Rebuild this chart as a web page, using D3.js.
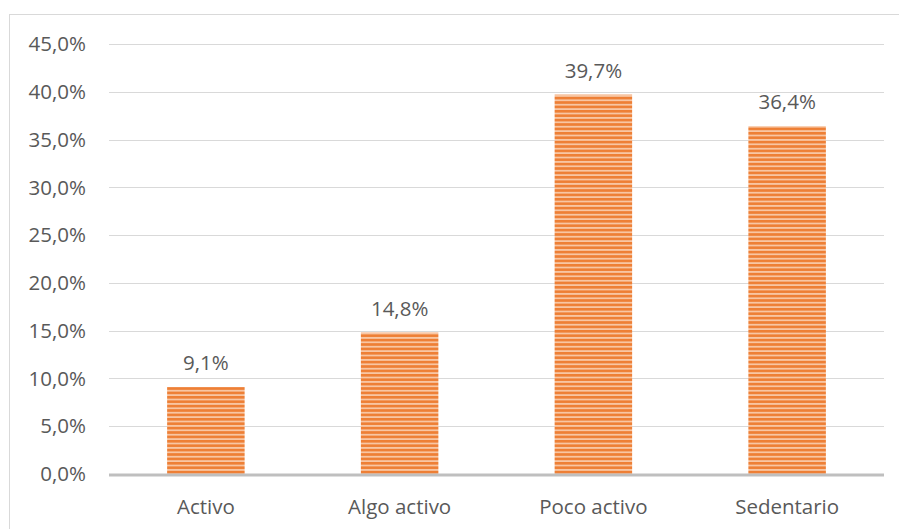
<!DOCTYPE html>
<html>
<head>
<meta charset="utf-8">
<script src="https://cdn.jsdelivr.net/npm/d3@7"></script>
<style>
  body { margin: 0; background: #fff; }
  text { font-family: "Open Sans", sans-serif; fill: #595959; }
</style>
</head>
<body>
<svg class="chart"></svg>
<script>
// Data
var categories = ['Activo', 'Algo activo', 'Poco activo', 'Sedentario'];
var values = [9.1, 14.8, 39.7, 36.4];
var ticks = [0, 5, 10, 15, 20, 25, 30, 35, 40, 45];

var W = 899, H = 529;
var margin = {top: 44, right: 15, bottom: 55, left: 109};
var width = W - margin.left - margin.right;
var height = H - margin.top - margin.bottom;
var fontSize = '20.5px';

function fmt (v) { return v.toFixed(1).replace('.', ',') + '%'; }

var svg = d3.select('.chart').attr('width', W).attr('height', H);

// Striped fill
var defs = svg.append('defs');
var pat = defs.append('pattern')
  .attr('id', 'stripes')
  .attr('patternUnits', 'userSpaceOnUse')
  .attr('width', 8).attr('height', 4.4);
pat.append('rect').attr('width', 8).attr('height', 4.4).attr('fill', '#F8C6A3');
pat.append('rect').attr('width', 8).attr('height', 2.6).attr('fill', '#EE7F35');

// Chart border
svg.append('rect')
  .attr('x', 9.5).attr('y', 14.5)
  .attr('width', W).attr('height', H)
  .attr('fill', 'none').attr('stroke', '#D9D9D9');

var g = svg.append('g')
  .attr('transform', 'translate(' + margin.left + ',' + margin.top + ')');

var x = d3.scaleBand()
  .domain(categories)
  .range([0, width])
  .paddingInner(0.6)
  .paddingOuter(0.3);

var y = d3.scaleLinear()
  .domain([0, 45])
  .range([height, 0]);

// Gridlines
g.selectAll('.grid')
  .data(ticks.slice(1))
  .enter().append('line')
  .attr('x1', 0).attr('x2', width)
  .attr('y1', function (d) { return Math.round(y(d)) + 0.5; })
  .attr('y2', function (d) { return Math.round(y(d)) + 0.5; })
  .attr('stroke', '#D9D9D9').attr('stroke-width', 1);

// Y tick labels
g.selectAll('.ytick')
  .data(ticks)
  .enter().append('text')
  .attr('x', -23)
  .attr('y', function (d) { return y(d); })
  .attr('dy', '0.35em')
  .attr('text-anchor', 'end')
  .style('font-size', fontSize)
  .text(fmt);

// Bars
g.selectAll('.bar')
  .data(values)
  .enter().append('rect')
  .attr('x', function (d, i) { return x(categories[i]); })
  .attr('y', function (d) { return y(d); })
  .attr('width', x.bandwidth())
  .attr('height', function (d) { return height - y(d); })
  .attr('fill', 'url(#stripes)');

// Value labels
g.selectAll('.val')
  .data(values)
  .enter().append('text')
  .attr('x', function (d, i) { return x(categories[i]) + x.bandwidth() / 2; })
  .attr('y', function (d) { return y(d) - 17; })
  .attr('text-anchor', 'middle')
  .style('font-size', fontSize)
  .text(fmt);

// Baseline
g.append('line')
  .attr('x1', 0).attr('x2', width)
  .attr('y1', height + 1).attr('y2', height + 1)
  .attr('stroke', '#BFBFBF').attr('stroke-width', 3);

// Category labels
g.selectAll('.cat')
  .data(categories)
  .enter().append('text')
  .attr('x', function (d) { return x(d) + x.bandwidth() / 2; })
  .attr('y', height + 40)
  .attr('text-anchor', 'middle')
  .style('font-size', fontSize)
  .text(function (d) { return d; });
</script>
</body>
</html>
